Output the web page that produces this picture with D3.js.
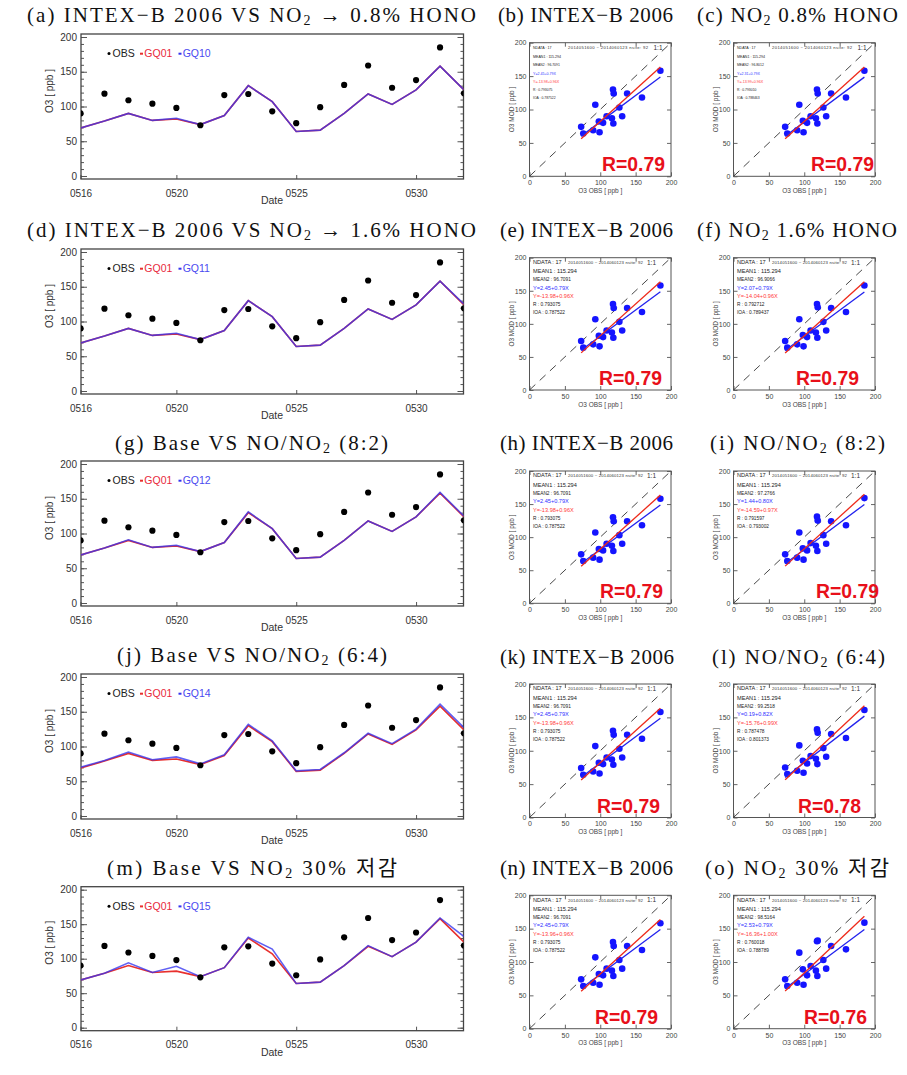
<!DOCTYPE html>
<html><head><meta charset="utf-8">
<script src="https://cdn.jsdelivr.net/npm/d3@7"></script>
<style>body{margin:0;background:#fff}svg{display:block}</style>
</head><body>
<svg id="c" width="907" height="1075"></svg>
<script>
// ---------------- DATA ----------------
const dates = ["0516","0517","0518","0519","0520","0521","0522","0523","0524","0525","0526","0527","0528","0529","0530","0531","0601"];
const dateTicks = ["0516","0520","0525","0530"];
const yTicks = [0,50,100,150,200];
const obs  = [90,118.5,109,104,98,73,116.5,118,93,76,99,131,159,127,138,185,119];
const gq01 = [69,79,90,80,82,74,87,130,107,64,66,90,118,103,124,158,124];
const gq10 = [69,79,90,80,83,74,87,130,107,64,66,90,118,103,124,158,124];
const gq11 = [69,79,90,80,83,74,87,130,107,64,66,90,118,103,124,158,125];
const gq12 = [69,79,91,80,83,74,87,131,107,64,66,90,118,103,124,159,125];
const gq14 = [70,80,92,81,85,75,88,132,108,65,67,91,119,104,125,161,127];
const gq15 = [69,79,94,80,89,74,87,131,114,64,66,90,119,103,124,159,132];

const tsTitles = [
  "(a) INTEX−B 2006 VS NO_2 → 0.8% HONO",
  "(d) INTEX−B 2006 VS NO_2 → 1.6% HONO",
  "(g) Base VS NO/NO_2 (8:2)",
  "(j) Base VS NO/NO_2 (6:4)",
  "(m) Base VS NO_2 30% 저감"];
const tsNames = ["GQ10","GQ11","GQ12","GQ14","GQ15"];
const tsModels = [gq10,gq11,gq12,gq14,gq15];

const scTitles = ["(b) INTEX−B 2006","(c) NO_2 0.8% HONO","(e) INTEX−B 2006","(f) NO_2 1.6% HONO",
  "(h) INTEX−B 2006","(i) NO/NO_2 (8:2)","(k) INTEX−B 2006","(l) NO/NO_2 (6:4)","(n) INTEX−B 2006","(o) NO_2 30% 저감"];
const scModels = [gq01,gq10,gq01,gq11,gq01,gq12,gq01,gq14,gq01,gq15];
const scMean1 = [115.294,115.294,115.294,115.294,115.294,115.294,115.294,115.294,115.294,115.294];
const scMean2 = [96.7091,96.8012,96.7091,96.9066,96.7091,97.2766,96.7091,99.2518,96.7091,98.5164];
const fitBlueA = [2.45,2.31,2.45,2.07,2.45,1.44,2.45,0.19,2.45,2.53];
const fitBlueB = [0.79,0.79,0.79,0.79,0.79,0.80,0.79,0.82,0.79,0.79];
const fitRedA  = [-13.98,-13.99,-13.98,-14.04,-13.98,-14.59,-13.98,-15.76,-13.96,-16.36];
const fitRedB  = [0.96,0.96,0.96,0.96,0.96,0.97,0.96,0.99,0.96,1.00];
const scR      = [0.793075,0.793010,0.793075,0.792712,0.793075,0.791597,0.793075,0.787478,0.793075,0.760018];
const scIOA    = [0.787522,0.788463,0.787522,0.789437,0.787522,0.793002,0.787522,0.801373,0.787522,0.788789];
const rLabels  = ["R=0.79","R=0.79","R=0.79","R=0.79","R=0.79","R=0.79","R=0.79","R=0.78","R=0.79","R=0.76"];
const nData = 17;

// ---------------- LAYOUT ----------------
const svg = d3.select("#c");
const SANS = "'Liberation Sans', Arial, sans-serif";
const SERIF = "'Liberation Serif', 'Noto Sans CJK KR', serif";
const tsY200 = [37,252,464,677,889.7], tsY0 = [176,391,603,816,1027.7];
const tsTitleY = [15,230,443,655,868];
const tsTitleX = [[27,476],[27,476],[115,388],[117,387],[107,397]];
const scY200 = [42.7,257.7,471,684,895.3], scY0 = [176.3,390,603.3,817.5,1028.7];
const scX0 = [529.5,733.5], scX200 = [671,875];
const scTitleY = [15,230,443,657,868];
const scTitleX = [[498,673],[697,898],[500,673],[697,897],[500,673],[710,885],[500,674],[712,885],[500,673],[705,889]];
const rRight = [665,874,662,859,663,879,660,861,658,867];

function title(str, x0, x1, yc){
  const t = svg.append("text").attr("x",x0).attr("y",yc+7)
    .attr("font-family",SERIF).attr("font-size",21).attr("fill","#111")
    .attr("textLength",x1-x0).attr("lengthAdjust","spacing");
  const parts = str.split("_2");
  parts.forEach((p,i)=>{
    if(i>0){
      t.append("tspan").attr("font-size",14).attr("dy",3).text("2");
      t.append("tspan").attr("dy",-3).text(p);
    } else t.append("tspan").text(p);
  });
}

// ---------------- TIME SERIES ----------------
function tsPanel(i){
  const y200=tsY200[i], y0=tsY0[i];
  const boxL=81, boxR=463.5, boxT=y200-3, boxB=y0+3;
  const x = d3.scaleLinear().domain([0,dates.length-1]).range([80.5,464]);
  const y = d3.scaleLinear().domain([0,200]).range([y0,y200]);
  const g = svg.append("g");
  const cid="clipts"+i;
  svg.append("clipPath").attr("id",cid).append("rect")
    .attr("x",boxL).attr("y",boxT).attr("width",boxR-boxL).attr("height",boxB-boxT);

  const minor = d3.range(0,201,10);
  g.append("g").attr("transform",`translate(${boxL},0)`)
    .call(d3.axisLeft(y).tickValues(yTicks).tickSizeInner(-6).tickSizeOuter(0).tickPadding(4));
  g.append("g").attr("transform",`translate(${boxL},0)`)
    .call(d3.axisLeft(y).tickValues(minor).tickSizeInner(-3).tickSizeOuter(0).tickFormat(""));
  g.append("g").attr("transform",`translate(${boxR},0)`)
    .call(d3.axisRight(y).tickValues(yTicks).tickSizeInner(-6).tickSizeOuter(0).tickFormat(""));
  g.append("g").attr("transform",`translate(${boxR},0)`)
    .call(d3.axisRight(y).tickValues(minor).tickSizeInner(-3).tickSizeOuter(0).tickFormat(""));
  g.append("g").attr("transform",`translate(0,${boxB})`)
    .call(d3.axisBottom(x).tickValues(dateTicks.map(d=>dates.indexOf(d))).tickFormat(k=>dates[k])
      .tickSizeInner(-4).tickSizeOuter(0).tickPadding(10.5));
  g.selectAll(".domain").remove();
  g.selectAll(".tick line").attr("stroke","#555");
  g.selectAll("text").attr("font-family",SANS).attr("font-size",10).attr("fill","#333");

  g.append("rect").attr("x",boxL).attr("y",boxT).attr("width",boxR-boxL).attr("height",boxB-boxT)
    .attr("fill","none").attr("stroke","#444").attr("stroke-width",1.3);

  const line = d3.line().x((d,k)=>x(k)).y(d=>y(d));
  const pg = g.append("g").attr("clip-path",`url(#${cid})`);
  pg.append("path").datum(gq01).attr("d",line).attr("fill","none").attr("stroke","#e8302e").attr("stroke-width",1.6);
  pg.append("path").datum(tsModels[i]).attr("d",line).attr("fill","none").attr("stroke","#3434f0")
    .attr("stroke-width",1.6).attr("stroke-opacity",0.78);
  pg.selectAll("circle").data(obs).join("circle").attr("cx",(d,k)=>x(k)).attr("cy",d=>y(d)).attr("r",3.1).attr("fill","#000");

  const ly = y200+16.5;
  g.append("circle").attr("cx",109).attr("cy",ly).attr("r",1.5).attr("fill","#000");
  g.append("text").attr("x",112.5).attr("y",ly+3.6).text("OBS").attr("fill","#222");
  g.append("rect").attr("x",140).attr("y",ly-0.8).attr("width",3).attr("height",2).attr("fill","#e8302e");
  g.append("text").attr("x",144.3).attr("y",ly+3.6).text("GQ01").attr("fill","#e8283c");
  g.append("rect").attr("x",178.5).attr("y",ly-0.8).attr("width",3).attr("height",2).attr("fill","#3434f0");
  g.append("text").attr("x",182.7).attr("y",ly+3.6).text(tsNames[i]).attr("fill","#4a4af0");
  g.selectAll("text").filter(function(){return !this.getAttribute("font-family")})
    .attr("font-family",SANS).attr("font-size",10.5);

  g.append("text").attr("x",272).attr("y",y0+28).attr("text-anchor","middle")
    .attr("font-family",SANS).attr("font-size",10.5).attr("fill","#333").text("Date");
  g.append("text").attr("transform",`translate(53,${y0-85}) rotate(-90)`).attr("text-anchor","middle")
    .attr("font-family",SANS).attr("font-size",10).attr("fill","#333").text("O3 [ ppb ]");

  title(tsTitles[i], tsTitleX[i][0], tsTitleX[i][1], tsTitleY[i]);
}

// ---------------- SCATTER ----------------
function scPanel(j){
  const row = Math.floor(j/2), col = j%2;
  const xs = d3.scaleLinear().domain([0,200]).range([scX0[col],scX200[col]]);
  const ys = d3.scaleLinear().domain([0,200]).range([scY0[row],scY200[row]]);
  const g = svg.append("g");
  const L=xs(0), R=xs(200), T=ys(200), B=ys(0);
  const small = row===0;

  g.append("g").attr("transform",`translate(${L},0)`)
    .call(d3.axisLeft(ys).tickValues(yTicks).tickSizeInner(-4).tickSizeOuter(0).tickPadding(3));
  g.append("g").attr("transform",`translate(${R},0)`)
    .call(d3.axisRight(ys).tickValues(yTicks).tickSizeInner(-4).tickSizeOuter(0).tickFormat(""));
  g.append("g").attr("transform",`translate(0,${B})`)
    .call(d3.axisBottom(xs).tickValues(yTicks).tickSizeInner(-4).tickSizeOuter(0).tickPadding(4));
  g.append("g").attr("transform",`translate(0,${T})`)
    .call(d3.axisTop(xs).tickValues(yTicks).tickSizeInner(-4).tickSizeOuter(0).tickFormat(""));
  g.selectAll(".domain").remove();
  g.selectAll(".tick line").attr("stroke","#666");
  g.selectAll("text").attr("font-family",SANS).attr("font-size",7).attr("fill","#444");
  g.append("rect").attr("x",L).attr("y",T).attr("width",R-L).attr("height",B-T)
    .attr("fill","none").attr("stroke","#555").attr("stroke-width",1);

  g.append("text").attr("x",(L+R)/2).attr("y",B+16.5).attr("text-anchor","middle")
    .attr("font-family",SANS).attr("font-size",6.5).attr("fill","#444").text("O3 OBS [ ppb ]");
  g.append("text").attr("transform",`translate(${L-15.5},${(T+B)/2}) rotate(-90)`).attr("text-anchor","middle")
    .attr("font-family",SANS).attr("font-size",6.5).attr("fill","#444").text("O3 MOD [ ppb ]");

  g.append("line").attr("x1",xs(0)).attr("y1",ys(0)).attr("x2",xs(200)).attr("y2",ys(200))
    .attr("stroke","#333").attr("stroke-width",0.9).attr("stroke-dasharray","8,6");

  const model = scModels[j];
  const pts = obs.map((o,k)=>[o,model[k]]);
  g.selectAll("circle.p").data(pts).join("circle").attr("class","p")
    .attr("cx",d=>xs(d[0])).attr("cy",d=>ys(d[1])).attr("r",3.3).attr("fill","#1414ff");

  const ext = d3.extent(obs);
  const ln = d3.line().x(d=>xs(d[0])).y(d=>ys(d[1]));
  g.append("path").datum(ext.map(v=>[v,fitBlueA[j]+fitBlueB[j]*v])).attr("d",ln)
    .attr("stroke","#2222ee").attr("stroke-width",1.3).attr("fill","none");
  g.append("path").datum(ext.map(v=>[v,fitRedA[j]+fitRedB[j]*v])).attr("d",ln)
    .attr("stroke","#ee2a1a").attr("stroke-width",1.3).attr("fill","none");

  const fs = small ? 3.6 : 5.6;
  const fsSmall = small ? 3.4 : 4.8;
  const lines = [
    ["NDATA : "+nData,"#222",fs],
    ["MEAN1 : "+scMean1[j].toFixed(3),"#222",fs],
    ["MEAN2 : "+scMean2[j].toFixed(4),"#222",fsSmall],
    ["Y="+fitBlueA[j].toFixed(2)+"+"+fitBlueB[j].toFixed(2)+"X","#3030ff",fs],
    ["Y="+fitRedA[j].toFixed(2)+"+"+fitRedB[j].toFixed(2)+"X","#ff3a3a",fs],
    ["R : "+scR[j].toFixed(6),"#222",fsSmall],
    ["IOA : "+scIOA[j].toFixed(6),"#222",fsSmall]];
  const offs = [6.3,15.7,23.7,32,40.5,48.5,56.5];
  lines.forEach((l,k)=>{
    g.append("text").attr("x",L+3.5).attr("y",T+offs[k]).attr("font-family",SANS)
      .attr("font-size",l[2]).attr("fill",l[1]).text(l[0]);
  });
  g.append("text").attr("x",L+38.5).attr("y",T+6.3).attr("font-family",SANS).attr("font-size",small?4.2:4.3)
    .attr("fill","#333").attr("textLength",small?80:75).text("2014051600 ~ 2014060123 nsite: 92");
  g.append("text").attr("x",L+(small?124:117.5)).attr("y",T+7).attr("font-family",SANS).attr("font-size",6.5)
    .attr("fill","#333").text("1:1");

  g.append("text").attr("x",rRight[j]).attr("y",B-5).attr("text-anchor","end")
    .attr("font-family",SANS).attr("font-weight","bold").attr("font-size",20).attr("fill","#e8101a")
    .attr("textLength",63).attr("lengthAdjust","spacingAndGlyphs").text(rLabels[j]);

  title(scTitles[j], scTitleX[j][0], scTitleX[j][1], scTitleY[row]);
}

for(let i=0;i<5;i++) tsPanel(i);
for(let j=0;j<10;j++) scPanel(j);
</script>
</body></html>
